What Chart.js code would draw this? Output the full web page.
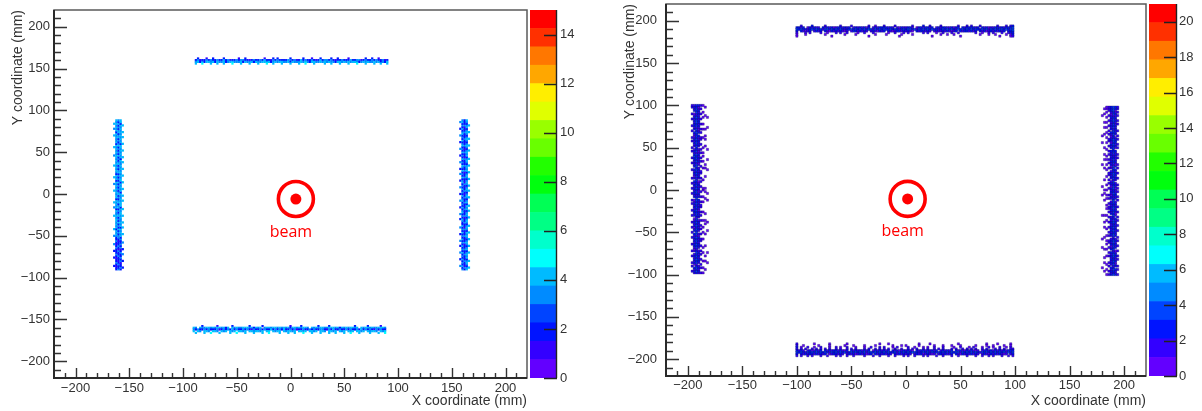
<!DOCTYPE html>
<html>
<head>
<meta charset="utf-8">
<title>Hit maps</title>
<script src="https://cdn.jsdelivr.net/npm/chart.js@4.4.1/dist/chart.umd.min.js"></script>
<style>
  html, body { margin: 0; padding: 0; background: #fff; }
  #wrap { position: relative; width: 1202px; height: 411px; overflow: hidden; }
  canvas { position: absolute; top: 0; }
</style>
</head>
<body>
<div id="wrap">
  <canvas id="mapA" width="600" height="411" style="left:0px"></canvas>
  <canvas id="barA" width="70" height="411" style="left:530px"></canvas>
  <canvas id="mapB" width="602" height="411" style="left:600px"></canvas>
  <canvas id="barB" width="53" height="411" style="left:1149px"></canvas>
</div>
<script>
// ---------------------------------------------------------------------------
// Histogram contents. Every band is stored as rows (or columns) of 2 mm bins,
// one character per bin: '.' = empty, digit = number of hits in that bin.
// ---------------------------------------------------------------------------
const BIN_MM = 2;
const axisTickLabels = [-200, -150, -100, -50, 0, 50, 100, 150, 200];

// ---- left map, colour scale 0..15 ----
const zMaxA = 15;
const paletteTicksA = [0, 2, 4, 6, 8, 10, 12, 14];
const beamA = [5, -6];

const topA_x0 = -88;
const topA_y = [162, 160, 158, 156];
const topA_counts = [
  ".2...1..2. ...2...... 1..2...... ..1...2.2. ....2..... 2...1...2. ...2..2... .1.......2 ..2..1....",
  "2312232322 3224231223 2332212322 3242213232 2223323124 2322321242 3323212232 2242233123 2232322312",
  "3423244342 4334234433 3424334243 3443423434 4334243334 3432443343 4343324434 3434432343 4334342324",
  "4..5...4.. 4..4...5.. .4...4...4 ...5..4... 4...4...4. .5...4.... 4..4...4.. .4...5...4 ...4..4..4"
];

const bottomA_x0 = -90;
const bottomA_y = [-158, -160, -162, -164, -166];
const bottomA_counts = [
  "....2..... .1......2. ......2... ..2....... .....1.... 2.......2. ...2...... .....2.... .2.....1..",
  "43.4334434 3443424.43 4334443424 34.3443443 4343424434 3443.43434 4334443424 3434434.43 4434334443",
  "3232232322 2312323242 3223232132 2323224232 3242232312 2322323223 3213242232 2323223242 3232132322",
  "4.43.443.4 43.434.434 .4434.4434 434.44.434 4.434434.4 434.4434.4 43.4434.43 4.434.4434 .43443.434",
  ".4...4..5. ..4....4.. 5...4...4. ..4..5.... 4...4..4.. .5...4...4 ...4..4... 4..5...4.. ..4...4..5"
];

const leftA_y0 = -90;
const leftA_x = [-164, -162, -160, -158, -156];
const leftA_counts = [
  "..2....2.. .2...3.... 3...4..... ..4....3.. 4......4.. .3...4.... ..4.....3. ...4...... 4...3..4..",
  "2212322123 2223212322 3434243434 4343342434 3424434343 4342434234 3434343443 4343424334 3424343434",
  "3223212232 2312322123 3232423242 3243232432 4323243232 3242323243 2324323242 3232432324 3243232423",
  "2322132322 3213232232 4343424343 3434434244 4343342434 3424434343 4343342434 3434424343 4343434244",
  ".2...2...3 ..2...3... .4...4..4. ..4...4... .4..4...4. ..4...4... 4...4..4.. .4...4...4 ..4...4..."
];

const rightA_y0 = -90;
const rightA_x = [158, 160, 162, 164, 166];
const rightA_counts = [
  "..3...2... 3...2..3.. .2...3.... 2..3...2.. .3...2...3 ...2...3.. 2...3...2. ..3...2... 3...2...3.",
  "3242324232 4232423242 3242324223 4232432423 2432423242 3243242324 2342324232 4232432423 2432423243",
  "2312232223 2232213222 3222312232 2132223222 3223212322 2312232213 2232223122 3212322232 2232213222",
  "4323432434 3243234323 4342343234 3234324342 4323432343 2343234324 3432343243 4323432343 2343243234",
  ".4...4.... 4...4...4. ..4...4... .4...4..4. ...4...4.. 4...4...4. ..4...4... .4..4...4. ..4...4..."
];

// ---- right map, colour scale 0..21 ----
const zMaxB = 21;
const paletteTicksB = [0, 2, 4, 6, 8, 10, 12, 14, 16, 18, 20];
const beamB = [1.5, -10.5];

const topB_x0 = -100;
const topB_y = [194, 192, 190, 188, 186, 184, 182];
const topB_counts = [
  "..2....3.. ...2...... 2....2.... ...2..1... 2....2.... ...2....3. .2....2... ....2...2. 2...2..... ..2...2.23",
  "3323.13232 2.32323123 32323.2323 2313.23233 33232.2132 2332.13323 323.232332 23133.3233 3323.32312 2332323334",
  "4343323434 3424434343 4323343434 3434424343 4334343234 3443424343 4343323434 3432434343 4343343424 3434434344",
  "3.32123.23 23.3213232 3212.23323 232.232132 3.32123323 2321.32332 32.2322323 2123.32332 323.323123 232323.334",
  "2...2.2... .2..1...2. 2..2....1. .2...2.... ..1..2...2 .2......2. 2...1..2.. .2..2..... ..2..1..2. 2...2..233",
  "1...1..... ...1...... ..1....1.. ......1... .1......1. ...1...... ......1..1 ..1....... ....1...1. .1....1.13",
  "1......... ......1... .......... ...1...... .......1.. .......... ..1....... .....1.... .......... ...1....12"
];

const bottomB_x0 = -100;
const bottomB_y = [-182, -184, -186, -188, -190, -192, -194, -196];
const bottomB_counts = [
  "2.......1. .....1.... ...1...... ........1. ..1....... ......1... .1........ ....1..... .......1.. ..1.....1.",
  "2..1...... 1....1.... ..1...1... .1....1... ....1...1. 1.....1... ...1...1.. .1...1.... ..1....1.. 1....1..1.",
  "3.1..2..1. .2...1..2. 1..2...1.. .1..2...2. 2...1.2... .2..1...1. 1..2...2.. ..1..2...1 .2...1..2. 1..2..1.2.",
  "2.2.2..2.2 .2.2.2..2. 2..2.2.2.. .2.2..2.2. 2.2..2..2. .2.2.2..2. 2..2.2.2.. .2.2..2.2. 2.2..2.2.. .2.2.2..22",
  "3232.23123 23.3232332 3213.32323 2323.13232 323.323123 2321.32332 32323.2323 23.3232132 3212.23323 2323232333",
  "4343243434 3434324343 4342343434 3424434343 4343342434 3434432343 4243343434 3434424343 4343243434 3434342434",
  "3.32323323 2323.12332 32.2323123 23123.3232 3232.32323 232.232312 3212.23232 23.3213232 3232.23213 2323212.23",
  "2.2..2.2.. .2..2...2. 2..2..2... .2...2..2. ..2..2...2 .2..2...2. 2...2..2.. .2..2...2. ..2..2..2. 2...2..2.2"
];

const leftB_y0 = -98;
const leftB_x = [-196, -194, -192, -190, -188, -186, -184, -182];
const leftB_counts = [
  ".2..2.2... 2..2...2.. .2..2..2.. 2...2..2.. .2.2...2.. 2..2..2... .2...2..2. ..2.2...2. 2...2..2.. .2..2...22",
  "2323.13232 32.2123323 2323.32132 321.323323 2321.32332 32323.3123 23.3232334 3232.22323 2123.32332 32321.3232",
  "3434324343 4343243434 3424434343 4342343434 3434432343 4343342434 3434424343 4243343434 3434342434 4343243433",
  "23232.2332 3232.23323 2312.23232 32.2323123 2323.32312 32321.2323 232.213232 3212.23232 23.3212323 3232323213",
  "2..2.2..2. .2.2..2..2 2..2..2.2. .2..2.2..2 2.2..2..2. .2..2.2..2 2..2..2.2. .2.2..2..2 2..2.2..2. .2..2..2.2",
  "1..1...1.. ..1..1.... 1...1..1.. .1....1... ..1..1...1 1....1.... ..1...1..1 .1..1..... 1....1..1. ..1..1...1",
  "..1....1.. 1.....1... ...1.....1 .1...1.... ....1...1. 1......1.. ..1.1..... .....1...1 .1...1.... ...1....1.",
  "......1... ..1....... .....1.... 1......... ...1...1.. .......... .1.....1.. ...1...... ......1... ..1......."
];

const rightB_y0 = -100;
const rightB_x = [194, 192, 190, 188, 186, 184, 182, 180];
const rightB_counts = [
  "2..2.2...2 .2..2..2.. 2.2...2..2 ..2.2..2.. 2...2.2..2 .2.2...2.. 2..2.2...2 .2...2.2.. 2.2..2...2 .2..2.2.22",
  "3223.32132 23321.3232 32.3232323 2323.21232 3232.32332 21232.2323 323.312322 2323.13233 32.2323232 2323232133",
  "4334324343 3443243434 4324434343 3442343434 4334432343 3443342434 4334424343 3243343434 4334342434 3443243444",
  "32323.2323 2323.32132 32.2323232 23232.3232 3232.23123 231232.232 32.2132323 2323.32312 32123.3232 2323212333",
  "2.2..2.2.. .2.2..2..2 2..2.2..2. .2..2..2.2 2.2..2.2.. .2..2.2..2 2..2..2.2. .2.2..2..2 2..2.2..2. .2..2..222",
  "1..1..1... .1...1..1. 1..1...1.. ..1..1...1 .1...1.1.. 1..1....1. ..1..1..1. 1...1...1. .1..1..1.. 1..1..1.11",
  "..1....1.. 1....1.... ..1.....1. .1...1.... ....1...1. 1.....1... ...1....1. .1...1.... ...1...1.. 1....1..1.",
  "....1..... ......1... .1........ .....1.... .......1.. ..1....... .....1.... ........1. ..1....... ....1....."
];

// ---------------------------------------------------------------------------
// Turning the bin strings into {x, y, v} points
// ---------------------------------------------------------------------------
function horizontalBand(x0, ys, rows) {
  const pts = [];
  rows.forEach((row, r) => {
    const s = row.replace(/ /g, '');
    for (let i = 0; i < s.length; i++) {
      if (s[i] === '.') continue;
      pts.push({ x: x0 + i * BIN_MM, y: ys[r], v: Number(s[i]) });
    }
  });
  return pts;
}
function verticalBand(y0, xs, cols) {
  const pts = [];
  cols.forEach((col, c) => {
    const s = col.replace(/ /g, '');
    for (let i = 0; i < s.length; i++) {
      if (s[i] === '.') continue;
      pts.push({ x: xs[c], y: y0 + i * BIN_MM, v: Number(s[i]) });
    }
  });
  return pts;
}

const cellsA = [].concat(
  horizontalBand(topA_x0, topA_y, topA_counts),
  horizontalBand(bottomA_x0, bottomA_y, bottomA_counts),
  verticalBand(leftA_y0, leftA_x, leftA_counts),
  verticalBand(rightA_y0, rightA_x, rightA_counts)
);
const cellsB = [].concat(
  horizontalBand(topB_x0, topB_y, topB_counts),
  horizontalBand(bottomB_x0, bottomB_y, bottomB_counts),
  verticalBand(leftB_y0, leftB_x, leftB_counts),
  verticalBand(rightB_y0, rightB_x, rightB_counts)
);

// ---------------------------------------------------------------------------
// Colour palette: 50-step violet -> red spectrum, 20 contour levels
// ---------------------------------------------------------------------------
const N_CONTOURS = 20;
const N_PALETTE = 50;
function levelOf(v, zmax) {
  return Math.max(0, Math.min(N_CONTOURS - 1, Math.floor(v / (zmax / N_CONTOURS))));
}
function levelColor(k) {
  const idx = Math.floor(0.01 + (k + 0.99) * N_PALETTE / N_CONTOURS);
  const hue = 280 - (idx + 1) * 280 / N_PALETTE;
  return 'hsl(' + hue.toFixed(1) + ',100%,50%)';
}

const FONT = 'Liberation Sans, Arial, Helvetica, sans-serif';
const TEXT = '#333';
const AXIS_MIN = -220, AXIS_MAX = 220, MINOR_STEP = 10, MAJOR_STEP = 50;
function fmtTick(v) { return v < 0 ? '\u2212' + Math.abs(v) : String(v); }

// inward ticks and the frame box
const framePlugin = {
  id: 'frameBox',
  afterDraw(chart, args, o) {
    const { ctx, chartArea: a, scales: { x, y } } = chart;
    ctx.save();
    ctx.strokeStyle = '#333';
    ctx.lineWidth = 1.4;
    ctx.beginPath();
    for (let v = AXIS_MIN + MINOR_STEP; v < AXIS_MAX; v += MINOR_STEP) {
      const major = v % MAJOR_STEP === 0;
      const px = Math.round(x.getPixelForValue(v)) + 0.5;
      ctx.moveTo(px, a.bottom); ctx.lineTo(px, a.bottom - (major ? o.xMajor : o.xMinor));
      const py = Math.round(y.getPixelForValue(v)) + 0.5;
      ctx.moveTo(a.left, py); ctx.lineTo(a.left + (major ? o.yMajor : o.yMinor), py);
    }
    ctx.stroke();
    ctx.strokeStyle = '#5a5a5a';
    ctx.lineWidth = 1.5;
    ctx.strokeRect(a.left, a.top, a.right - a.left, a.bottom - a.top);
    ctx.strokeStyle = '#2a2a2a';
    ctx.lineWidth = 2;
    ctx.beginPath();
    ctx.moveTo(a.left, a.top); ctx.lineTo(a.left, a.bottom); ctx.lineTo(a.right, a.bottom);
    ctx.stroke();
    ctx.restore();
  }
};

// beam position marker
const beamPlugin = {
  id: 'beamMark',
  afterDraw(chart, args, o) {
    const { ctx, scales: { x, y } } = chart;
    const cx = x.getPixelForValue(o.at[0]);
    const cy = y.getPixelForValue(o.at[1]);
    ctx.save();
    ctx.strokeStyle = '#ff0000';
    ctx.fillStyle = '#ff0000';
    ctx.lineWidth = 3.6;
    ctx.beginPath(); ctx.arc(cx, cy, 17.5, 0, Math.PI * 2); ctx.stroke();
    ctx.beginPath(); ctx.arc(cx, cy, 5.5, 0, Math.PI * 2); ctx.fill();
    ctx.font = '16px "Open Sans", sans-serif';
    ctx.textAlign = 'center';
    ctx.textBaseline = 'middle';
    ctx.fillText(o.label, cx - 5, cy + 33);
    ctx.restore();
  }
};

function noEdgePadding(s) {
  s.paddingTop = 0; s.paddingBottom = 0; s.paddingLeft = 0; s.paddingRight = 0;
}

function mapConfig(cells, zmax, beam, g) {
  return {
    type: 'scatter',
    data: {
      datasets: [{
        data: cells,
        pointStyle: 'rect',
        pointRadius: 1.6,
        pointHoverRadius: 1.6,
        pointBorderWidth: g.edgeWidth,
        pointBorderColor: g.edgeColor,
        pointBackgroundColor: c => levelColor(levelOf(c.raw.v, zmax))
      }]
    },
    options: {
      responsive: false,
      animation: false,
      devicePixelRatio: 1,
      events: [],
      layout: { padding: g.pad },
      plugins: {
        legend: { display: false },
        tooltip: { enabled: false },
        frameBox: { xMajor: 10, xMinor: 5, yMajor: 13, yMinor: 7 },
        beamMark: { at: beam, label: 'beam' }
      },
      scales: {
        x: {
          type: 'linear', min: AXIS_MIN, max: AXIS_MAX,
          grid: { display: false, drawTicks: false },
          border: { display: false },
          afterBuildTicks: s => { s.ticks = axisTickLabels.map(v => ({ value: v })); },
          ticks: {
            autoSkip: false, maxRotation: 0, minRotation: 0,
            padding: g.xTickPad, color: TEXT, font: { family: FONT, size: 13 },
            callback: v => fmtTick(v)
          },
          title: {
            display: true, text: 'X coordinate (mm)', align: 'end', color: TEXT,
            font: { family: FONT, size: 14 }, padding: { top: 0, bottom: 1 }
          },
          afterFit: s => { s.height = g.xh; noEdgePadding(s); }
        },
        y: {
          type: 'linear', min: AXIS_MIN, max: AXIS_MAX,
          grid: { display: false, drawTicks: false },
          border: { display: false },
          afterBuildTicks: s => { s.ticks = axisTickLabels.map(v => ({ value: v })); },
          ticks: {
            autoSkip: false,
            padding: g.yTickPad, color: TEXT, font: { family: FONT, size: 13 },
            callback: v => fmtTick(v)
          },
          title: {
            display: true, text: 'Y coordinate (mm)', align: 'end', color: TEXT,
            font: { family: FONT, size: 14 }, padding: { top: g.yTitlePad, bottom: 0 }
          },
          afterFit: s => { s.width = g.yw; noEdgePadding(s); }
        }
      }
    },
    plugins: [framePlugin, beamPlugin]
  };
}

// palette axis: ticks pointing into the colour bar, axis line on its right edge
const paletteAxisPlugin = {
  id: 'paletteAxis',
  afterDraw(chart) {
    const { ctx, chartArea: a, scales: { y } } = chart;
    ctx.save();
    ctx.strokeStyle = '#222';
    ctx.lineWidth = 1.4;
    ctx.beginPath();
    y.ticks.forEach(t => {
      const py = Math.round(y.getPixelForValue(t.value)) + 0.5;
      ctx.moveTo(a.right, py); ctx.lineTo(a.right - 13, py);
    });
    ctx.moveTo(a.right - 0.5, a.top); ctx.lineTo(a.right - 0.5, a.bottom);
    ctx.stroke();
    ctx.restore();
  }
};

function paletteConfig(zmax, tickList, g) {
  const step = zmax / N_CONTOURS;
  const datasets = [];
  for (let k = 0; k < N_CONTOURS; k++) {
    datasets.push({
      data: [step],
      backgroundColor: levelColor(k),
      borderWidth: 0,
      barPercentage: 1,
      categoryPercentage: 1
    });
  }
  return {
    type: 'bar',
    data: { labels: [''], datasets },
    options: {
      responsive: false,
      animation: false,
      devicePixelRatio: 1,
      events: [],
      layout: { padding: g.pad },
      plugins: { legend: { display: false }, tooltip: { enabled: false } },
      scales: {
        x: { stacked: true, display: false },
        y: {
          stacked: true, position: 'right', min: 0, max: zmax,
          grid: { display: false, drawTicks: false },
          border: { display: false },
          afterBuildTicks: s => { s.ticks = tickList.map(v => ({ value: v })); },
          ticks: {
            autoSkip: false, padding: g.tickPad, color: TEXT,
            font: { family: FONT, size: 13 },
            callback: v => String(v)
          },
          afterFit: s => { s.width = g.axisW; noEdgePadding(s); }
        }
      }
    },
    plugins: [paletteAxisPlugin]
  };
}

new Chart(document.getElementById('mapA'), mapConfig(cellsA, zMaxA, beamA, {
  pad: { left: 0, top: 10, right: 73, bottom: 0 },
  yw: 54, xh: 33, yTickPad: 4, xTickPad: 3, yTitlePad: 9.6,
  edgeWidth: 0, edgeColor: 'rgba(0,0,0,0)'
}));
new Chart(document.getElementById('barA'), paletteConfig(zMaxA, paletteTicksA, {
  pad: { left: 0, top: 10, right: 0, bottom: 33 }, axisW: 43, tickPad: 3
}));
new Chart(document.getElementById('mapB'), mapConfig(cellsB, zMaxB, beamB, {
  pad: { left: 0, top: 4, right: 56, bottom: 0 },
  yw: 66, xh: 35, yTickPad: 9, xTickPad: 2, yTitlePad: 21.6,
  edgeWidth: 0.6, edgeColor: 'rgba(10,10,90,0.55)'
}));
new Chart(document.getElementById('barB'), paletteConfig(zMaxB, paletteTicksB, {
  pad: { left: 0, top: 4, right: 0, bottom: 35 }, axisW: 25, tickPad: 2
}));
</script>
</body>
</html>
